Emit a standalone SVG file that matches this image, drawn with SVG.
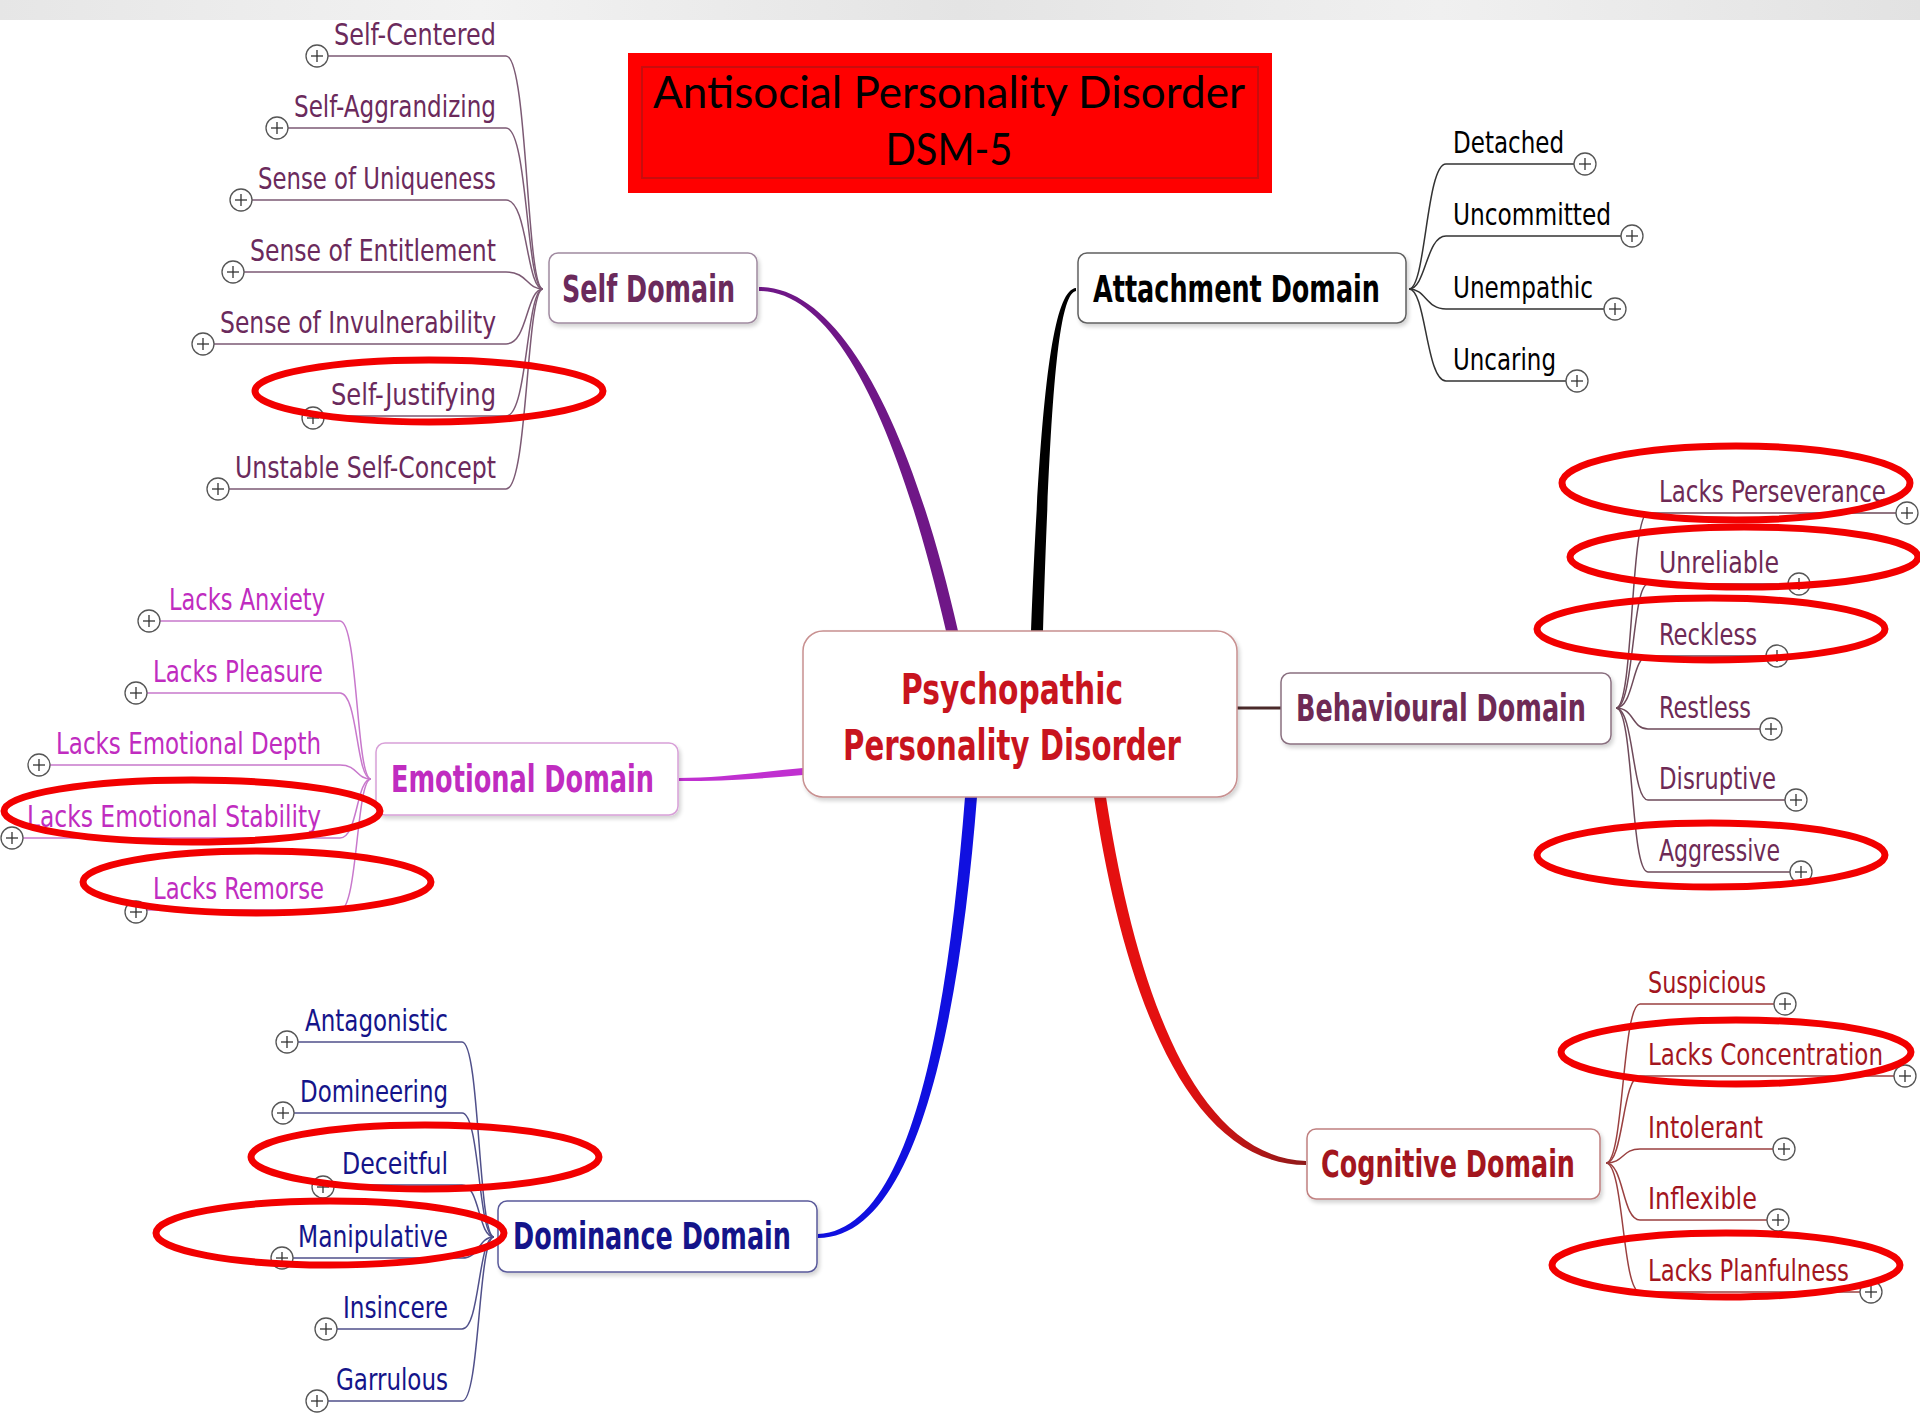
<svg xmlns="http://www.w3.org/2000/svg" xmlns:xlink="http://www.w3.org/1999/xlink" width="1920" height="1415" viewBox="0 0 1920 1415">
<defs>
<linearGradient id="band" x1="0" y1="0" x2="1" y2="0">
<stop offset="0" stop-color="#e6e6e6"/><stop offset="0.25" stop-color="#f2f2f2"/><stop offset="0.5" stop-color="#e4e4e4"/><stop offset="0.75" stop-color="#f0f0f0"/><stop offset="1" stop-color="#e2e2e2"/>
</linearGradient>
<linearGradient id="redfade" gradientUnits="userSpaceOnUse" x1="1180" y1="0" x2="1306" y2="0">
<stop offset="0" stop-color="#e41010"/><stop offset="1" stop-color="#8e1a1a"/>
</linearGradient>
<g id="plus">
<circle cx="0" cy="0" r="11" fill="#fff" stroke="#555" stroke-width="1.3"/>
<line x1="-6" y1="0" x2="6" y2="0" stroke="#333" stroke-width="1.3"/>
<line x1="0" y1="-6" x2="0" y2="6" stroke="#333" stroke-width="1.3"/>
</g>
<filter id="sh" x="-5%" y="-10%" width="110%" height="130%">
<feGaussianBlur in="SourceAlpha" stdDeviation="2"/><feOffset dx="2" dy="3"/>
<feComponentTransfer><feFuncA type="linear" slope="0.18"/></feComponentTransfer>
<feMerge><feMergeNode/><feMergeNode in="SourceGraphic"/></feMerge>
</filter>
</defs>
<style>
.t{font-family:"DejaVu Sans Condensed","DejaVu Sans",sans-serif;font-size:31px}
.d{font-family:"DejaVu Sans Condensed","DejaVu Sans",sans-serif;font-size:37px;font-weight:bold}
.box{fill:#fff;stroke-width:1.5}
.ul{fill:none;stroke-width:1.5}
.ring{fill:none;stroke:#f20000;stroke-width:7}
.self text{fill:#6b2a5c}.self .ul{stroke:#7c5a74}
.emo text{fill:#c02cc0}.emo .ul{stroke:#c878cc}
.dom text{fill:#14148a}.dom .ul{stroke:#50508a}
.att text{fill:#000}.att .ul{stroke:#333}
.beh text{fill:#6e2a55}.beh .ul{stroke:#6e4a5a}
.cog text{fill:#a3161e}.cog .ul{stroke:#9a4040}
</style>
<rect x="0" y="0" width="1920" height="1415" fill="#fff"/>
<rect x="0" y="0" width="1920" height="20" fill="url(#band)"/>

<g id="title">
<rect x="628" y="53" width="644" height="140" fill="#ff0000"/>
<rect x="642" y="67" width="616" height="111" fill="none" stroke="#c80d0d" stroke-width="2"/>
<text x="949" y="108" text-anchor="middle" font-family="Lato,'Open Sans',sans-serif" font-size="44" fill="#000" textLength="592" lengthAdjust="spacingAndGlyphs">Antisocial Personality Disorder</text>
<text x="949" y="165" text-anchor="middle" font-family="Lato,'Open Sans',sans-serif" font-size="44" fill="#000" textLength="127" lengthAdjust="spacingAndGlyphs">DSM-5</text>
</g>

<g id="connectors">
<path d="M759,287 C842,287 912,428 958,631 L946,631 C900,432 838,291 759,291 Z" fill="#6f1787"/>
<path d="M1076,288 C1052,290 1040,400 1031,631 L1043,631 C1050,400 1058,294 1076,291 Z" fill="#000"/>
<path d="M965,797 C949,1000 915,1230 818,1234 L818,1238 C922,1238 961,1000 977,797 Z" fill="#1010e0"/>
<path d="M1094,797 C1119,962 1176,1164 1306,1165 L1306,1161 C1184,1156 1131,958 1106,797 Z" fill="url(#redfade)"/>
<path d="M679,778 C720,778 760,772 803,768 L803,775 C760,779 720,781 679,781 Z" fill="#c030d0"/>
<line x1="1237" y1="708" x2="1281" y2="708" stroke="#4a2a2a" stroke-width="3"/>
</g>

<g id="center">
<rect class="box" x="803" y="631" width="434" height="166" rx="20" stroke="#c89090" filter="url(#sh)"/>
<text x="1012" y="704" text-anchor="middle" font-family="'DejaVu Sans Condensed','DejaVu Sans',sans-serif" font-weight="bold" font-size="43" fill="#c8141e" textLength="222" lengthAdjust="spacingAndGlyphs">Psychopathic</text>
<text x="1012" y="760" text-anchor="middle" font-family="'DejaVu Sans Condensed','DejaVu Sans',sans-serif" font-weight="bold" font-size="43" fill="#c8141e" textLength="338" lengthAdjust="spacingAndGlyphs">Personality Disorder</text>
</g>

<!-- Self Domain -->
<g id="self-domain" class="self">
<rect class="box" x="549" y="253" width="208" height="70" rx="9" stroke="#a08aa0" filter="url(#sh)"/>
<text class="d" x="562" y="302" fill="#7a3060" textLength="173" lengthAdjust="spacingAndGlyphs">Self Domain</text>
</g>
<g id="self-children" class="self">
<path class="ul" d="M543,289 C526,289 528,56 506,56 L328,56"/>
<path class="ul" d="M543,289 C526,289 528,128 506,128 L288,128"/>
<path class="ul" d="M543,289 C526,289 528,200 506,200 L252,200"/>
<path class="ul" d="M543,289 C526,289 528,272 506,272 L244,272"/>
<path class="ul" d="M543,289 C526,289 528,344 506,344 L214,344"/>
<path class="ul" d="M543,289 C526,289 528,416 506,416 L324,416"/>
<path class="ul" d="M543,289 C526,289 528,489 506,489 L229,489"/>
<g id="self-centered"><use href="#plus" x="317" y="56"/><text class="t" x="496" y="45" text-anchor="end" textLength="162" lengthAdjust="spacingAndGlyphs">Self-Centered</text></g>
<g id="self-aggrandizing"><use href="#plus" x="277" y="128"/><text class="t" x="496" y="117" text-anchor="end" textLength="202" lengthAdjust="spacingAndGlyphs">Self-Aggrandizing</text></g>
<g id="sense-uniqueness"><use href="#plus" x="241" y="200"/><text class="t" x="496" y="189" text-anchor="end" textLength="238" lengthAdjust="spacingAndGlyphs">Sense of Uniqueness</text></g>
<g id="sense-entitlement"><use href="#plus" x="233" y="272"/><text class="t" x="496" y="261" text-anchor="end" textLength="246" lengthAdjust="spacingAndGlyphs">Sense of Entitlement</text></g>
<g id="sense-invulnerability"><use href="#plus" x="203" y="344"/><text class="t" x="496" y="333" text-anchor="end" textLength="276" lengthAdjust="spacingAndGlyphs">Sense of Invulnerability</text></g>
<g id="self-justifying"><use href="#plus" x="313" y="418"/><text class="t" x="496" y="405" text-anchor="end" textLength="165" lengthAdjust="spacingAndGlyphs">Self-Justifying</text></g>
<g id="unstable-self-concept"><use href="#plus" x="218" y="489"/><text class="t" x="496" y="478" text-anchor="end" textLength="261" lengthAdjust="spacingAndGlyphs">Unstable Self-Concept</text></g>
</g>

<!-- Emotional Domain -->
<g id="emotional-domain" class="emo">
<rect class="box" x="376" y="743" width="302" height="72" rx="9" stroke="#d8a0d8" filter="url(#sh)"/>
<text class="d" x="391" y="792" fill="#c41cc8" textLength="263" lengthAdjust="spacingAndGlyphs">Emotional Domain</text>
</g>
<g id="emotional-children" class="emo">
<path class="ul" d="M371,779 C356,779 358,621 340,621 L160,621"/>
<path class="ul" d="M371,779 C356,779 358,693 340,693 L147,693"/>
<path class="ul" d="M371,779 C356,779 358,765 340,765 L50,765"/>
<path class="ul" d="M371,779 C356,779 358,838 340,838 L23,838"/>
<path class="ul" d="M371,779 C356,779 358,910 340,910 L147,910"/>
<g id="lacks-anxiety"><use href="#plus" x="149" y="621"/><text class="t" x="325" y="610" text-anchor="end" textLength="156" lengthAdjust="spacingAndGlyphs">Lacks Anxiety</text></g>
<g id="lacks-pleasure"><use href="#plus" x="136" y="693"/><text class="t" x="323" y="682" text-anchor="end" textLength="170" lengthAdjust="spacingAndGlyphs">Lacks Pleasure</text></g>
<g id="lacks-emotional-depth"><use href="#plus" x="39" y="765"/><text class="t" x="321" y="754" text-anchor="end" textLength="265" lengthAdjust="spacingAndGlyphs">Lacks Emotional Depth</text></g>
<g id="lacks-emotional-stability"><use href="#plus" x="12" y="838"/><text class="t" x="321" y="827" text-anchor="end" textLength="294" lengthAdjust="spacingAndGlyphs">Lacks Emotional Stability</text></g>
<g id="lacks-remorse"><use href="#plus" x="136" y="912"/><text class="t" x="324" y="899" text-anchor="end" textLength="171" lengthAdjust="spacingAndGlyphs">Lacks Remorse</text></g>
</g>

<!-- Dominance Domain -->
<g id="dominance-domain" class="dom">
<rect class="box" x="498" y="1201" width="319" height="71" rx="9" stroke="#5a5a9a" filter="url(#sh)"/>
<text class="d" x="513" y="1249" fill="#10108c" textLength="278" lengthAdjust="spacingAndGlyphs">Dominance Domain</text>
</g>
<g id="dominance-children" class="dom">
<path class="ul" d="M494,1237 C478,1237 480,1042 462,1042 L298,1042"/>
<path class="ul" d="M494,1237 C478,1237 480,1113 462,1113 L294,1113"/>
<path class="ul" d="M494,1237 C478,1237 480,1185 462,1185 L334,1185"/>
<path class="ul" d="M494,1237 C478,1237 480,1258 462,1258 L293,1258"/>
<path class="ul" d="M494,1237 C478,1237 480,1329 462,1329 L337,1329"/>
<path class="ul" d="M494,1237 C478,1237 480,1401 462,1401 L328,1401"/>
<g id="antagonistic"><use href="#plus" x="287" y="1042"/><text class="t" x="448" y="1031" text-anchor="end" textLength="143" lengthAdjust="spacingAndGlyphs">Antagonistic</text></g>
<g id="domineering"><use href="#plus" x="283" y="1113"/><text class="t" x="448" y="1102" text-anchor="end" textLength="148" lengthAdjust="spacingAndGlyphs">Domineering</text></g>
<g id="deceitful"><use href="#plus" x="323" y="1187"/><text class="t" x="448" y="1174" text-anchor="end" textLength="106" lengthAdjust="spacingAndGlyphs">Deceitful</text></g>
<g id="manipulative"><use href="#plus" x="282" y="1258"/><text class="t" x="448" y="1247" text-anchor="end" textLength="150" lengthAdjust="spacingAndGlyphs">Manipulative</text></g>
<g id="insincere"><use href="#plus" x="326" y="1329"/><text class="t" x="448" y="1318" text-anchor="end" textLength="105" lengthAdjust="spacingAndGlyphs">Insincere</text></g>
<g id="garrulous"><use href="#plus" x="317" y="1401"/><text class="t" x="448" y="1390" text-anchor="end" textLength="112" lengthAdjust="spacingAndGlyphs">Garrulous</text></g>
</g>

<!-- Attachment Domain -->
<g id="attachment-domain" class="att">
<rect class="box" x="1078" y="253" width="328" height="70" rx="9" stroke="#606060" filter="url(#sh)"/>
<text class="d" x="1093" y="302" textLength="287" lengthAdjust="spacingAndGlyphs">Attachment Domain</text>
</g>
<g id="attachment-children" class="att">
<path class="ul" d="M1409,289 C1426,289 1426,164 1446,164 L1574,164"/>
<path class="ul" d="M1409,289 C1426,289 1426,236 1446,236 L1621,236"/>
<path class="ul" d="M1409,289 C1426,289 1426,309 1446,309 L1604,309"/>
<path class="ul" d="M1409,289 C1426,289 1426,381 1446,381 L1566,381"/>
<g id="detached"><use href="#plus" x="1585" y="164"/><text class="t" x="1453" y="153" textLength="111" lengthAdjust="spacingAndGlyphs">Detached</text></g>
<g id="uncommitted"><use href="#plus" x="1632" y="236"/><text class="t" x="1453" y="225" textLength="158" lengthAdjust="spacingAndGlyphs">Uncommitted</text></g>
<g id="unempathic"><use href="#plus" x="1615" y="309"/><text class="t" x="1453" y="298" textLength="140" lengthAdjust="spacingAndGlyphs">Unempathic</text></g>
<g id="uncaring"><use href="#plus" x="1577" y="381"/><text class="t" x="1453" y="370" textLength="103" lengthAdjust="spacingAndGlyphs">Uncaring</text></g>
</g>

<!-- Behavioural Domain -->
<g id="behavioural-domain" class="beh">
<rect class="box" x="1281" y="673" width="330" height="71" rx="9" stroke="#8a7080" filter="url(#sh)"/>
<text class="d" x="1296" y="721" textLength="290" lengthAdjust="spacingAndGlyphs">Behavioural Domain</text>
</g>
<g id="behavioural-children" class="beh">
<path class="ul" d="M1616,708 C1634,708 1630,513 1648,513 L1896,513"/>
<path class="ul" d="M1616,708 C1634,708 1632,584 1648,584 L1788,584"/>
<path class="ul" d="M1616,708 C1634,708 1632,656 1648,656 L1766,656"/>
<path class="ul" d="M1616,708 C1634,708 1632,729 1648,729 L1760,729"/>
<path class="ul" d="M1616,708 C1634,708 1632,800 1648,800 L1785,800"/>
<path class="ul" d="M1616,708 C1634,708 1630,872 1648,872 L1790,872"/>
<g id="lacks-perseverance"><use href="#plus" x="1907" y="513"/><text class="t" x="1659" y="502" textLength="227" lengthAdjust="spacingAndGlyphs">Lacks Perseverance</text></g>
<g id="unreliable"><use href="#plus" x="1799" y="584"/><text class="t" x="1659" y="573" textLength="120" lengthAdjust="spacingAndGlyphs">Unreliable</text></g>
<g id="reckless"><use href="#plus" x="1777" y="656"/><text class="t" x="1659" y="645" textLength="98" lengthAdjust="spacingAndGlyphs">Reckless</text></g>
<g id="restless"><use href="#plus" x="1771" y="729"/><text class="t" x="1659" y="718" textLength="92" lengthAdjust="spacingAndGlyphs">Restless</text></g>
<g id="disruptive"><use href="#plus" x="1796" y="800"/><text class="t" x="1659" y="789" textLength="117" lengthAdjust="spacingAndGlyphs">Disruptive</text></g>
<g id="aggressive"><use href="#plus" x="1801" y="872"/><text class="t" x="1659" y="861" textLength="121" lengthAdjust="spacingAndGlyphs">Aggressive</text></g>
</g>

<!-- Cognitive Domain -->
<g id="cognitive-domain" class="cog">
<rect class="box" x="1307" y="1129" width="293" height="70" rx="9" stroke="#c08080" filter="url(#sh)"/>
<text class="d" x="1321" y="1177" fill="#b01820" textLength="254" lengthAdjust="spacingAndGlyphs">Cognitive Domain</text>
</g>
<g id="cognitive-children" class="cog">
<path class="ul" d="M1606,1163 C1624,1163 1622,1004 1640,1004 L1774,1004"/>
<path class="ul" d="M1606,1163 C1624,1163 1622,1076 1640,1076 L1894,1076"/>
<path class="ul" d="M1606,1163 C1624,1163 1622,1149 1640,1149 L1773,1149"/>
<path class="ul" d="M1606,1163 C1624,1163 1622,1220 1640,1220 L1767,1220"/>
<path class="ul" d="M1606,1163 C1624,1163 1622,1292 1640,1292 L1860,1292"/>
<g id="suspicious"><use href="#plus" x="1785" y="1004"/><text class="t" x="1648" y="993" textLength="118" lengthAdjust="spacingAndGlyphs">Suspicious</text></g>
<g id="lacks-concentration"><use href="#plus" x="1905" y="1076"/><text class="t" x="1648" y="1065" textLength="235" lengthAdjust="spacingAndGlyphs">Lacks Concentration</text></g>
<g id="intolerant"><use href="#plus" x="1784" y="1149"/><text class="t" x="1648" y="1138" textLength="115" lengthAdjust="spacingAndGlyphs">Intolerant</text></g>
<g id="inflexible"><use href="#plus" x="1778" y="1220"/><text class="t" x="1648" y="1209" textLength="109" lengthAdjust="spacingAndGlyphs">Inflexible</text></g>
<g id="lacks-planfulness"><use href="#plus" x="1871" y="1292"/><text class="t" x="1648" y="1281" textLength="201" lengthAdjust="spacingAndGlyphs">Lacks Planfulness</text></g>
</g>

<g id="highlights">
<ellipse class="ring" cx="429" cy="391" rx="174" ry="31"/>
<ellipse class="ring" cx="192" cy="811" rx="188" ry="31"/>
<ellipse class="ring" cx="257" cy="882" rx="174" ry="31"/>
<ellipse class="ring" cx="425" cy="1157" rx="174" ry="32"/>
<ellipse class="ring" cx="330" cy="1233" rx="174" ry="32"/>
<ellipse class="ring" cx="1736" cy="483" rx="174" ry="37"/>
<ellipse class="ring" cx="1744" cy="557" rx="174" ry="30"/>
<ellipse class="ring" cx="1711" cy="629" rx="174" ry="31"/>
<ellipse class="ring" cx="1711" cy="855" rx="174" ry="32"/>
<ellipse class="ring" cx="1736" cy="1052" rx="175" ry="32"/>
<ellipse class="ring" cx="1726" cy="1265" rx="174" ry="32"/>
</g>
</svg>
